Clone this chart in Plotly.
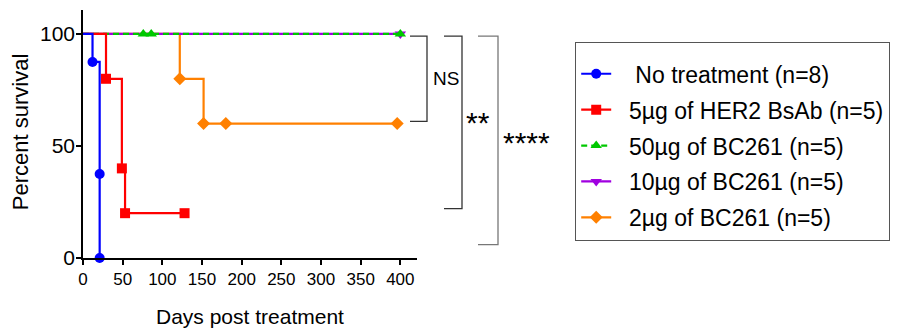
import plotly.graph_objects as go

# ---------------- data ----------------
group_names = [
    "No treatment (n=8)",
    "5µg of HER2 BsAb (n=5)",
    "50µg of BC261 (n=5)",
    "10µg of BC261 (n=5)",
    "2µg of BC261 (n=5)",
]
# Kaplan-Meier steps: first point is the start (day 0, 100 %), rest are symbols
days_no_tx = [0, 12, 21, 21]
surv_no_tx = [100, 87.5, 37.5, 0]

days_her2 = [0, 29, 49, 53, 128]
surv_her2 = [100, 80, 40, 20, 20]

days_bc50 = [0, 76, 86, 400]
surv_bc50 = [100, 100, 100, 100]

days_bc10 = [0, 400]
surv_bc10 = [100, 100]

days_bc2 = [0, 122, 152, 180, 396]
surv_bc2 = [100, 80, 60, 60, 60]

x_ticks = [0, 50, 100, 150, 200, 250, 300, 350, 400]
y_ticks = [0, 50, 100]

# significance brackets: label, top, bottom (percent survival)
bracket_labels = ["NS", "**", "****"]
bracket_tops = [99, 99, 99]
bracket_bottoms = [61, 22, 6]

# ---------------- styling ----------------
colors = ["#0000FF", "#FF0000", "#00C800", "#A000E0", "#FF8000"]
symbols = ["circle", "square", "triangle-up", "triangle-down", "diamond"]
dashes = ["solid", "solid", "6px,4px", "solid", "solid"]
msizes = [10, 10, 10, 10, 10]
NB = "\u00a0"
legend_pre = [NB * 3, NB * 2, NB * 2, NB * 2, NB * 2]

series = [
    (days_no_tx, surv_no_tx),
    (days_her2, surv_her2),
    (days_bc50, surv_bc50),
    (days_bc10, surv_bc10),
    (days_bc2, surv_bc2),
]

# page body has an 8px margin: figure is drawn 8px in from the window corner
OFF = 8
W, H = 900 - OFF, 328 - OFF
X_MAX = 421
Y_MAX = 110.7
L, T = 83 - OFF, 10 - OFF
R = W - (417 - OFF)
B = H - (258 - OFF)
PW = W - L - R
PH = H - T - B


def px_x(p):
    """window pixel x -> paper fraction"""
    return (p - OFF - L) / PW


def px_y(p):
    """window pixel y -> paper fraction"""
    return (H - B - (p - OFF)) / PH


FONT = "Liberation Sans, Arial, sans-serif"
NARROW = "Liberation Sans Narrow, Liberation Sans, Arial, sans-serif"

fig = go.Figure()

draw_order = [4, 3, 2, 1, 0]  # bottom to top
for i in draw_order:
    xs, ys = series[i]
    fig.add_trace(go.Scatter(
        x=xs, y=ys, mode="lines", line=dict(color=colors[i], width=2.2, dash=dashes[i], shape="hv"),
        showlegend=False, hoverinfo="skip", cliponaxis=False))
    fig.add_trace(go.Scatter(
        x=xs[1:], y=ys[1:], mode="markers",
        marker=dict(color=colors[i], symbol=symbols[i], size=msizes[i]),
        showlegend=False, cliponaxis=False))

# legend entries
for i, name in enumerate(group_names):
    fig.add_trace(go.Scatter(
        x=[None], y=[None], mode="lines+markers", name=legend_pre[i] + name,
        line=dict(color=colors[i], width=2.2, dash=dashes[i]),
        marker=dict(color=colors[i], symbol=symbols[i], size=msizes[i]),
        legendgroup=f"g{i}", legendrank=i + 1))

# brackets
bx = [(410, 427), (444, 462), (478, 498)]
bcol = ["#333333", "#333333", "#777777"]
label_x = [445.5, 478, 526]
label_shift = [0, 0, -2]
for k in range(3):
    x0, x1 = bx[k]
    top, bot = bracket_tops[k] / Y_MAX, bracket_bottoms[k] / Y_MAX
    path = f"M {px_x(x0)},{top} L {px_x(x1)},{top} L {px_x(x1)},{bot} L {px_x(x0)},{bot}"
    fig.add_shape(type="path", path=path, xref="paper", yref="paper",
                  line=dict(color=bcol[k], width=1.3))
    mid = (bracket_tops[k] + bracket_bottoms[k]) / 2 / Y_MAX
    is_star = "*" in bracket_labels[k]
    fig.add_annotation(x=px_x(label_x[k]), y=mid, xref="paper", yref="paper",
                       text=bracket_labels[k], showarrow=False,
                       xanchor="center", yanchor="middle",
                       yshift=label_shift[k],
                       font=dict(family=NARROW if not is_star else FONT,
                                 size=19 if not is_star else 30, color="black"))

# axis titles
fig.add_annotation(x=px_x(250), y=px_y(316), xref="paper", yref="paper",
                   text="Days post treatment", showarrow=False,
                   xanchor="center", yanchor="middle",
                   font=dict(family=FONT, size=21, color="black"))
fig.add_annotation(x=px_x(20.5), y=px_y(131.7), xref="paper", yref="paper",
                   text="Percent survival", showarrow=False, textangle=-90,
                   xanchor="center", yanchor="middle",
                   font=dict(family=FONT, size=22, color="black"))

fig.update_layout(
    width=W, height=H, autosize=False,
    margin=dict(l=L, r=R, t=T, b=B, pad=0, autoexpand=False),
    paper_bgcolor="white", plot_bgcolor="white",
    font=dict(family=FONT, color="black"),
    xaxis=dict(range=[0, X_MAX], tickmode="array", tickvals=x_ticks,
               ticks="outside", ticklen=5, tickwidth=1.5, tickcolor="black",
               showline=True, linecolor="black", linewidth=1.5,
               showgrid=False, zeroline=False, automargin=False,
               tickfont=dict(family=NARROW, size=17, color="black")),
    yaxis=dict(range=[0, Y_MAX], tickmode="array", tickvals=y_ticks,
               ticks="outside", ticklen=5, tickwidth=1.5, tickcolor="black",
               showline=True, linecolor="black", linewidth=1.5,
               showgrid=False, zeroline=False, automargin=False,
               ticklabelstandoff=-3,
               tickfont=dict(family=FONT, size=21, color="black")),
    legend=dict(x=px_x(575), y=px_y(42), xanchor="left", yanchor="top",
                bordercolor="#555555", borderwidth=1.2, bgcolor="white",
                font=dict(family=FONT, size=23, color="black"),
                title=dict(text=NB, font=dict(size=7)),
                tracegroupgap=3, itemwidth=30),
    showlegend=True,
)

fig.write_html("out.html")
